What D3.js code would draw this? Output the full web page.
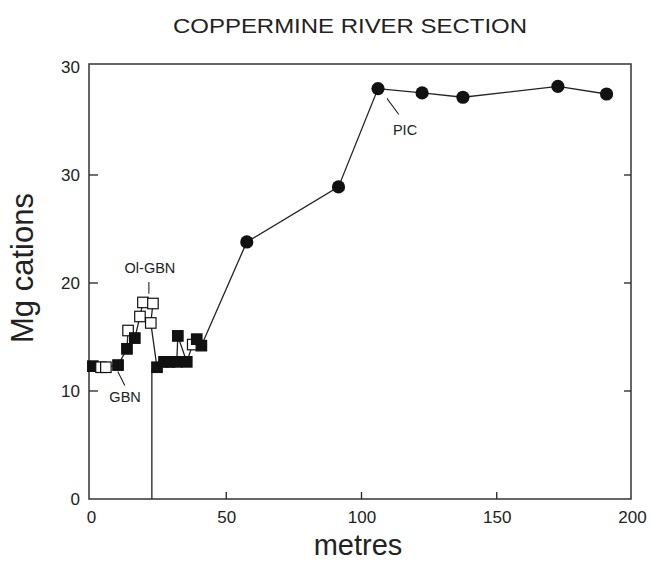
<!DOCTYPE html>
<html>
<head>
<meta charset="utf-8">
<script src="https://cdn.jsdelivr.net/npm/d3@7"></script>
<style>
  html, body { margin: 0; padding: 0; background: #fff; }
  svg { display: block; font-family: "Liberation Sans", Arial, Helvetica, sans-serif; }
</style>
</head>
<body>
<svg id="chart" width="651" height="561"></svg>
<script>
// Stratigraphic height (m) and Mg cation values, in section order
const metres = [0.7, 3.7, 5.5, 10, 13.3, 13.7, 16.2, 18.1, 19.2, 22.9, 22.1, 24.4, 27, 29, 31.7, 32.1, 35.4, 37.6, 39.1, 40.8,
                57.6, 91.5, 106.1, 122.4, 137.5, 172.6, 190.6];
const mgCations = [12.3, 12.2, 12.2, 12.4, 13.9, 15.6, 14.9, 16.9, 18.2, 18.1, 16.3, 12.2, 12.7, 12.7, 12.7, 15.1, 12.7, 14.3, 14.8, 14.2,
                   23.8, 28.9, 38.0, 37.6, 37.2, 38.2, 37.5];
// Rock unit of each sample: GBN (filled square), OL (open square, Ol-GBN), PIC (filled circle)
const unit = ["GBN", "OL", "OL", "GBN", "GBN", "OL", "GBN", "OL", "OL", "OL", "OL", "GBN", "GBN", "GBN", "GBN", "GBN", "GBN", "OL", "GBN", "GBN",
              "PIC", "PIC", "PIC", "PIC", "PIC", "PIC", "PIC"];

// Contact marker between the units
const contactX = [22.5];
const contactY = [0, 12];

const xTicks = [0, 50, 100, 150, 200];
const xTickLabels = ["0", "50", "100", "150", "200"];
const yTicks = [0, 10, 20, 30, 40];
const yTickLabels = ["0", "10", "20", "30", "30"];

// Unit labels with their leader lines
const unitLabels = [
  { text: "Ol-GBN", x: 21.8, y: 20.9, lx: [21.4, 21.4], ly: [20.1, 19.0] },
  { text: "GBN",    x: 12.6, y: 9.0,  lx: [9.9, 12.5], ly: [11.8, 10.5] },
  { text: "PIC",    x: 116.1, y: 33.7, lx: [109.4, 113.8], ly: [37.1, 35.6] }
];

const svg = d3.select("#chart");
const plotLeft = 91, plotRight = 632, plotTop = 67, plotBottom = 499;

const x = d3.scaleLinear().domain([0, 200]).range([plotLeft, plotRight]);
const y = d3.scaleLinear().domain([0, 40]).range([plotBottom, plotTop]);

const ink = "#222";

// Title
svg.append("text")
  .attr("x", 350).attr("y", 33)
  .attr("text-anchor", "middle")
  .attr("font-size", 21)
  .attr("textLength", 354)
  .attr("lengthAdjust", "spacingAndGlyphs")
  .attr("fill", ink)
  .text("COPPERMINE RIVER SECTION");

// Frame
svg.append("rect")
  .attr("x", plotLeft - 2).attr("y", plotTop - 3)
  .attr("width", plotRight - plotLeft + 1).attr("height", plotBottom - plotTop + 3)
  .attr("fill", "none").attr("stroke", "#333").attr("stroke-width", 1.5);

// Axes with inward ticks
const gx = svg.append("g").attr("transform", `translate(0,${plotBottom})`)
  .call(d3.axisBottom(x).tickValues(xTicks).tickFormat((d, i) => xTickLabels[i]).tickSize(0).tickPadding(12));
const gy = svg.append("g").attr("transform", `translate(${plotLeft - 2},0)`)
  .call(d3.axisLeft(y).tickValues(yTicks).tickFormat((d, i) => yTickLabels[i]).tickSize(0).tickPadding(9));
[gx, gy].forEach(g => {
  g.select(".domain").remove();
  g.selectAll("text").attr("font-size", 17).attr("fill", ink).attr("font-family", "Liberation Sans, Arial, sans-serif");
});

const innerX = xTicks.filter(v => v > 0 && v < 200);
const innerY = yTicks.filter(v => v > 0 && v < 40);
svg.append("g").selectAll("line").data(innerX).join("line")
  .attr("x1", d => x(d)).attr("x2", d => x(d))
  .attr("y1", plotBottom).attr("y2", plotBottom - 7)
  .attr("stroke", ink).attr("stroke-width", 1.3);
svg.append("g").selectAll("line").data(innerY).join("line")
  .attr("x1", plotLeft - 2).attr("x2", plotLeft + 7)
  .attr("y1", d => y(d)).attr("y2", d => y(d))
  .attr("stroke", ink).attr("stroke-width", 1.3);
svg.append("g").selectAll("line").data(innerY).join("line")
  .attr("x1", plotRight - 1).attr("x2", plotRight - 8)
  .attr("y1", d => y(d)).attr("y2", d => y(d))
  .attr("stroke", ink).attr("stroke-width", 1.3);

// Axis titles
svg.append("text")
  .attr("x", 358).attr("y", 555)
  .attr("text-anchor", "middle")
  .attr("font-size", 29)
  .attr("fill", ink)
  .text("metres");
svg.append("text")
  .attr("transform", `translate(33,268) rotate(-90)`)
  .attr("text-anchor", "middle")
  .attr("font-size", 31)
  .attr("fill", ink)
  .text("Mg cations");

// Contact line
svg.append("line")
  .attr("x1", x(contactX[0])).attr("x2", x(contactX[0]))
  .attr("y1", y(contactY[0])).attr("y2", y(contactY[1]))
  .attr("stroke", ink).attr("stroke-width", 1.3);

// Profile line
const pts = metres.map((m, i) => ({ m, v: mgCations[i], u: unit[i] }));
svg.append("path")
  .datum(pts)
  .attr("fill", "none")
  .attr("stroke", ink)
  .attr("stroke-width", 1.3)
  .attr("d", d3.line().x(d => x(d.m)).y(d => y(d.v)));

// Sample markers
const sq = 10.5;
svg.append("g").selectAll("rect").data(pts.filter(d => d.u !== "PIC")).join("rect")
  .attr("x", d => x(d.m) - sq / 2).attr("y", d => y(d.v) - sq / 2)
  .attr("width", sq).attr("height", sq)
  .attr("fill", d => d.u === "OL" ? "#fff" : "#111")
  .attr("stroke", "#111").attr("stroke-width", 1.2);
svg.append("g").selectAll("circle").data(pts.filter(d => d.u === "PIC")).join("circle")
  .attr("cx", d => x(d.m)).attr("cy", d => y(d.v))
  .attr("r", 6.6).attr("fill", "#111");

// Unit labels
const lg = svg.append("g");
unitLabels.forEach(l => {
  lg.append("line")
    .attr("x1", x(l.lx[0])).attr("x2", x(l.lx[1]))
    .attr("y1", y(l.ly[0])).attr("y2", y(l.ly[1]))
    .attr("stroke", ink).attr("stroke-width", 1.1);
  lg.append("text")
    .attr("x", x(l.x)).attr("y", y(l.y))
    .attr("text-anchor", "middle")
    .attr("font-size", 14.5)
    .attr("fill", ink)
    .text(l.text);
});
</script>
</body>
</html>
